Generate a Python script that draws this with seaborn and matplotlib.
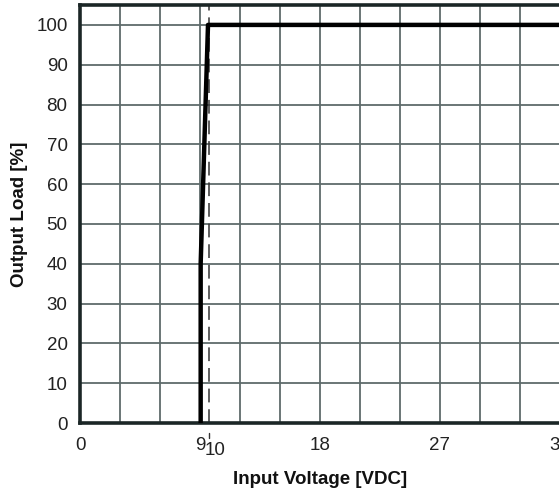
import matplotlib
matplotlib.use("Agg")
import matplotlib.pyplot as plt
import seaborn as sns
import pandas as pd
from matplotlib import font_manager

# Data
input_voltage = [9.05, 9.05, 9.6, 36.0]
output_load = [0, 40, 100, 100]
xticks = [0, 9, 18, 27, 36]
xtick_labels = ["0", "9", "18", "27", "36"]
yticks = [0, 10, 20, 30, 40, 50, 60, 70, 80, 90, 100]
marker_voltage = 9.7
marker_label = "10"

sns.set_theme(style="white")
names = {f.name for f in font_manager.fontManager.ttflist}
fam = ["Liberation Sans Narrow", "DejaVu Sans"] if "Liberation Sans Narrow" in names else ["Liberation Sans", "DejaVu Sans"]
plt.rcParams["font.family"] = fam

W, H = 559, 497
fig = plt.figure(figsize=(W / 100, H / 100), dpi=100)
ax = fig.add_axes([80 / W, (H - 423) / H, 480 / W, (423 - 5) / H])

df = pd.DataFrame({"v": input_voltage, "load": output_load})
grid_c = "#5f6b6b"
for x in range(0, 37, 3):
    ax.axvline(x, color=grid_c, lw=1.3, zorder=1)
for y in yticks:
    ax.axhline(y, color=grid_c, lw=1.3, zorder=1)

ax.axvline(marker_voltage, color="#333333", lw=1.1, ls=(0, (9, 4.5)), zorder=2)

sns.lineplot(data=df, x="v", y="load", sort=False, estimator=None,
             color="black", lw=3.2, ax=ax, zorder=3)

ax.set_xlim(0, 36)
ax.set_ylim(0, 105)
ax.set_xticks(xticks)
ax.set_xticklabels(xtick_labels)
ax.set_yticks(yticks)
ax.tick_params(axis="both", length=0, labelsize=13.5, colors="#222222")
ax.tick_params(axis="x", pad=10)
ax.tick_params(axis="y", pad=9)
ax.grid(False)

for s in ["left", "bottom", "top"]:
    ax.spines[s].set_color("#1b2626")
    ax.spines[s].set_linewidth(2.6)
ax.spines["right"].set_visible(False)

for lbl in ax.get_xticklabels():
    if lbl.get_text() == "9":
        lbl.set_x(8.9)
ax.text(marker_voltage + 0.4, -6.9, marker_label, ha="center", va="center", fontsize=13.5,
        color="#222222", transform=ax.transData, clip_on=False)
ax.plot([marker_voltage, marker_voltage], [-2.5, -3.8], color="#333333", lw=1, clip_on=False)

ax.set_xlabel("Input Voltage [VDC]", fontsize=13.5, fontweight="bold", color="#111111")
ax.set_ylabel("Output Load [%]", fontsize=13.5, fontweight="bold", color="#111111")
ax.xaxis.set_label_coords(0.5, -0.115)
ax.yaxis.set_label_coords(-0.108, 0.5)

fig.savefig("out.png", dpi=100)
